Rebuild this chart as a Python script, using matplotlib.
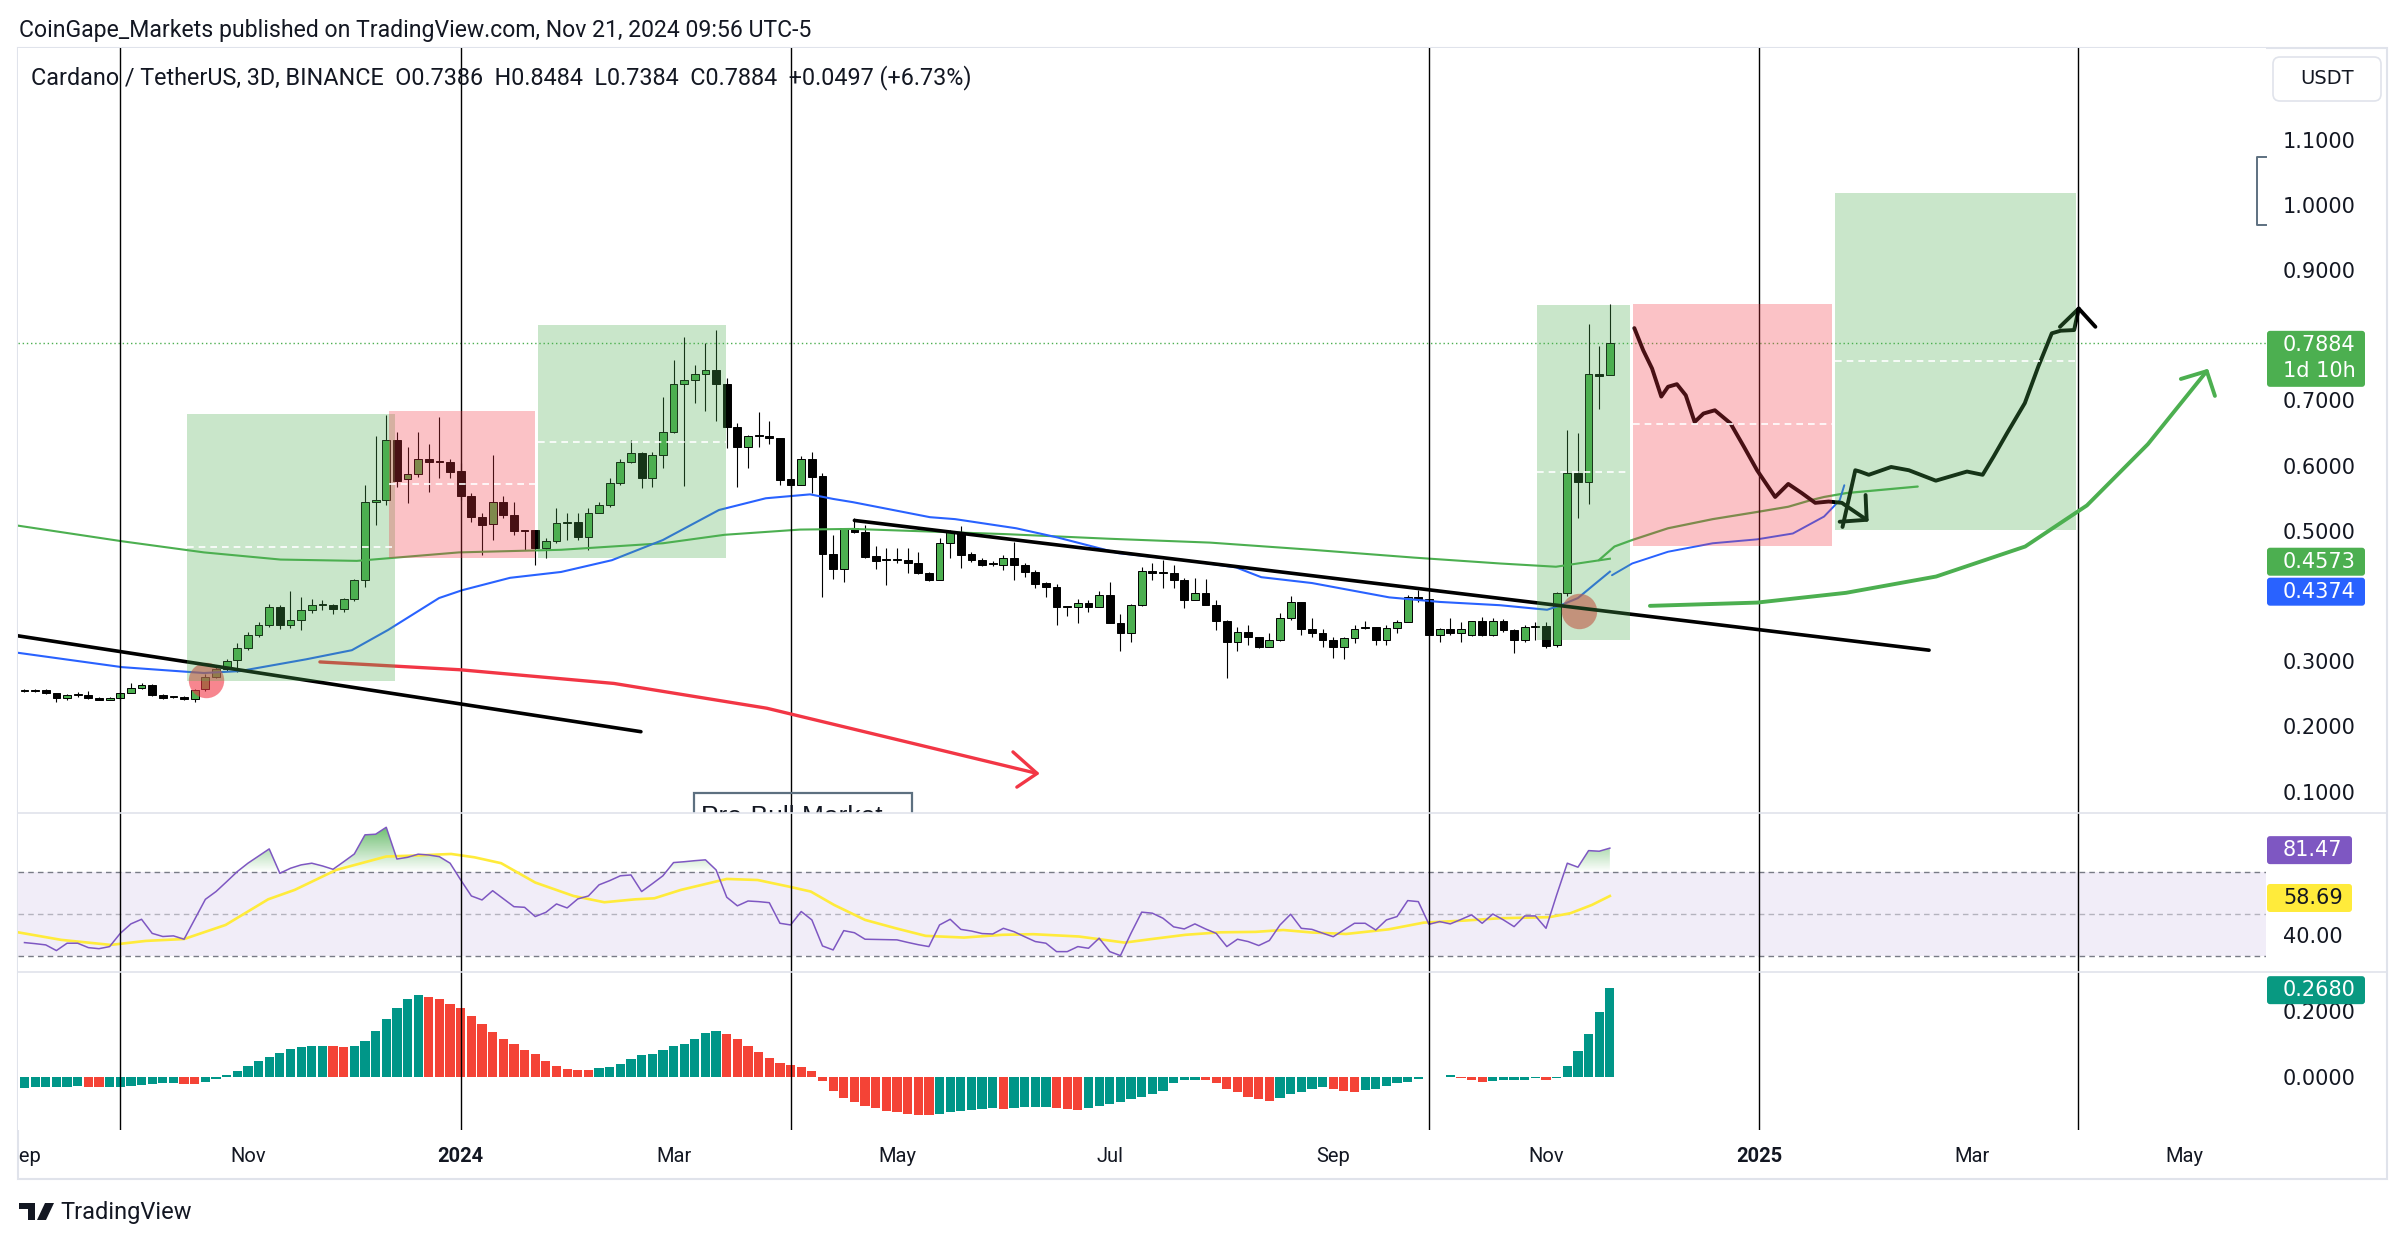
import matplotlib
matplotlib.use("Agg")
import matplotlib.pyplot as plt
import matplotlib.dates as mdates
from matplotlib.patches import Rectangle, FancyBboxPatch, PathPatch, Polygon
from matplotlib.path import Path
from matplotlib.colors import LinearSegmentedColormap
from matplotlib.transforms import IdentityTransform, Bbox
from matplotlib.lines import Line2D
import numpy as np
import pandas as pd

W, H = 2406, 1243
PX = IdentityTransform()

# pane layout in pixels, y measured from the top
LEFT, RIGHT, FRAME_R = 18, 2266, 2387
TOP, SEP1, SEP2, BOT, FRAME_B = 48, 813, 972, 1130, 1179

GREEN = '#4caf50'; RED = '#f23645'; BLUE = '#2962ff'; PURPLE = '#7e57c2'
TEAL = '#089981'; HRED = '#f44336'; TXT = '#131722'; GRID = '#e0e3eb'

# ---------------- data ----------------
bar_dates = pd.date_range(end='2024-11-20', periods=150, freq='3D')

opens = [0.255, 0.256, 0.256, 0.251, 0.243, 0.248, 0.249, 0.244, 0.241, 0.243,
         0.252, 0.259, 0.264, 0.249, 0.245, 0.245, 0.242, 0.257, 0.276, 0.288,
         0.302, 0.321, 0.340, 0.356, 0.383, 0.356, 0.364, 0.378, 0.386, 0.386,
         0.380, 0.395, 0.424, 0.544, 0.548, 0.640, 0.579, 0.587, 0.611, 0.607,
         0.606, 0.592, 0.554, 0.521, 0.510, 0.545, 0.525, 0.501, 0.501, 0.474,
         0.484, 0.512, 0.513, 0.491, 0.528, 0.539, 0.574, 0.606, 0.619, 0.581,
         0.617, 0.652, 0.726, 0.732, 0.741, 0.746, 0.725, 0.659, 0.629, 0.645,
         0.646, 0.642, 0.579, 0.571, 0.611, 0.584, 0.465, 0.442, 0.505, 0.498,
         0.461, 0.456, 0.456, 0.456, 0.450, 0.436, 0.425, 0.481, 0.499, 0.464,
         0.456, 0.449, 0.448, 0.459, 0.447, 0.437, 0.420, 0.414, 0.383, 0.383,
         0.390, 0.384, 0.401, 0.359, 0.344, 0.386, 0.439, 0.436, 0.436, 0.425,
         0.394, 0.405, 0.386, 0.362, 0.329, 0.345, 0.337, 0.322, 0.332, 0.367,
         0.391, 0.349, 0.344, 0.333, 0.322, 0.336, 0.351, 0.352, 0.332, 0.351,
         0.361, 0.399, 0.395, 0.341, 0.349, 0.343, 0.341, 0.362, 0.341, 0.362,
         0.348, 0.332, 0.353, 0.354, 0.325, 0.404, 0.588, 0.575, 0.740, 0.7386]
closes = [0.256, 0.255, 0.251, 0.243, 0.248, 0.249, 0.243, 0.241, 0.244, 0.252,
          0.259, 0.264, 0.248, 0.244, 0.246, 0.242, 0.256, 0.276, 0.288, 0.301,
          0.321, 0.340, 0.356, 0.383, 0.355, 0.364, 0.378, 0.386, 0.386, 0.380,
          0.395, 0.424, 0.544, 0.548, 0.640, 0.577, 0.587, 0.611, 0.606, 0.606,
          0.591, 0.554, 0.521, 0.509, 0.545, 0.524, 0.500, 0.500, 0.474, 0.484,
          0.512, 0.513, 0.491, 0.528, 0.539, 0.574, 0.606, 0.619, 0.581, 0.617,
          0.652, 0.726, 0.732, 0.741, 0.746, 0.725, 0.659, 0.629, 0.646, 0.646,
          0.642, 0.578, 0.571, 0.611, 0.583, 0.464, 0.442, 0.505, 0.498, 0.460,
          0.454, 0.456, 0.456, 0.450, 0.436, 0.425, 0.481, 0.499, 0.463, 0.456,
          0.448, 0.449, 0.459, 0.447, 0.437, 0.419, 0.414, 0.383, 0.383, 0.390,
          0.384, 0.401, 0.359, 0.344, 0.386, 0.439, 0.436, 0.436, 0.425, 0.394,
          0.405, 0.386, 0.362, 0.329, 0.345, 0.337, 0.322, 0.332, 0.367, 0.391,
          0.349, 0.344, 0.333, 0.322, 0.336, 0.350, 0.352, 0.332, 0.351, 0.361,
          0.399, 0.395, 0.341, 0.349, 0.343, 0.349, 0.362, 0.341, 0.362, 0.348,
          0.332, 0.353, 0.354, 0.323, 0.404, 0.588, 0.575, 0.740, 0.738, 0.7884]
highs = [0.258, 0.258, 0.257, 0.252, 0.250, 0.253, 0.254, 0.245, 0.245, 0.253,
         0.267, 0.266, 0.265, 0.250, 0.247, 0.246, 0.258, 0.281, 0.292, 0.303,
         0.328, 0.345, 0.360, 0.388, 0.386, 0.408, 0.399, 0.395, 0.394, 0.388,
         0.397, 0.426, 0.570, 0.646, 0.678, 0.652, 0.629, 0.651, 0.633, 0.675,
         0.611, 0.604, 0.558, 0.527, 0.616, 0.553, 0.545, 0.502, 0.502, 0.489,
         0.535, 0.527, 0.527, 0.535, 0.544, 0.581, 0.611, 0.639, 0.621, 0.621,
         0.706, 0.762, 0.798, 0.754, 0.788, 0.808, 0.734, 0.665, 0.647, 0.683,
         0.668, 0.643, 0.580, 0.615, 0.621, 0.589, 0.494, 0.505, 0.519, 0.509,
         0.477, 0.473, 0.473, 0.473, 0.467, 0.437, 0.489, 0.501, 0.507, 0.468,
         0.459, 0.454, 0.463, 0.483, 0.450, 0.440, 0.422, 0.418, 0.384, 0.395,
         0.394, 0.408, 0.421, 0.373, 0.388, 0.445, 0.450, 0.455, 0.448, 0.427,
         0.427, 0.426, 0.394, 0.364, 0.353, 0.356, 0.337, 0.343, 0.374, 0.400,
         0.391, 0.366, 0.350, 0.338, 0.338, 0.356, 0.362, 0.353, 0.356, 0.363,
         0.402, 0.409, 0.396, 0.351, 0.366, 0.361, 0.362, 0.368, 0.366, 0.365,
         0.350, 0.356, 0.361, 0.361, 0.406, 0.655, 0.650, 0.817, 0.783, 0.8484]
lows = [0.253, 0.253, 0.250, 0.238, 0.241, 0.245, 0.242, 0.240, 0.240, 0.241,
        0.251, 0.257, 0.247, 0.242, 0.244, 0.240, 0.238, 0.255, 0.274, 0.285,
        0.283, 0.318, 0.337, 0.352, 0.350, 0.351, 0.348, 0.374, 0.379, 0.372,
        0.376, 0.392, 0.414, 0.509, 0.540, 0.568, 0.542, 0.583, 0.559, 0.581,
        0.581, 0.547, 0.514, 0.463, 0.486, 0.519, 0.494, 0.471, 0.447, 0.458,
        0.481, 0.486, 0.486, 0.471, 0.527, 0.537, 0.570, 0.604, 0.565, 0.568,
        0.596, 0.650, 0.569, 0.696, 0.684, 0.668, 0.627, 0.568, 0.596, 0.629,
        0.633, 0.570, 0.565, 0.570, 0.558, 0.399, 0.426, 0.422, 0.497, 0.458,
        0.442, 0.417, 0.450, 0.436, 0.434, 0.423, 0.424, 0.459, 0.443, 0.453,
        0.446, 0.446, 0.440, 0.424, 0.430, 0.412, 0.399, 0.356, 0.369, 0.359,
        0.376, 0.384, 0.359, 0.316, 0.329, 0.385, 0.424, 0.413, 0.413, 0.381,
        0.394, 0.386, 0.348, 0.275, 0.315, 0.325, 0.320, 0.322, 0.331, 0.364,
        0.341, 0.338, 0.322, 0.305, 0.303, 0.328, 0.350, 0.325, 0.325, 0.343,
        0.361, 0.391, 0.341, 0.330, 0.341, 0.330, 0.339, 0.339, 0.339, 0.345,
        0.313, 0.330, 0.333, 0.320, 0.322, 0.400, 0.519, 0.541, 0.687, 0.7384]

rsi = [36.5, 36.0, 35.4, 32.7, 36.2, 36.2, 34.1, 33.6, 34.6, 40.9,
       45.4, 47.6, 40.9, 39.4, 39.7, 38.1, 47.6, 57.1, 60.8, 65.5,
       70.3, 74.3, 77.7, 81.1, 69.5, 71.9, 73.5, 74.3, 73.0, 71.4,
       75.0, 78.7, 87.8, 88.1, 91.4, 76.3, 77.1, 78.6, 78.2, 77.4,
       74.3, 66.3, 58.7, 56.8, 61.2, 57.4, 53.6, 53.3, 48.9, 50.9,
       54.9, 53.0, 57.3, 58.7, 64.0, 66.0, 68.3, 68.7, 60.8, 64.5,
       68.3, 74.6, 75.0, 75.5, 75.9, 71.1, 58.1, 54.0, 56.3, 56.0,
       55.5, 45.7, 44.9, 51.3, 47.3, 34.9, 33.0, 42.2, 41.2, 38.1,
       38.0, 37.9, 37.8, 36.6, 35.5, 34.6, 44.9, 47.6, 42.8, 42.0,
       40.8, 40.6, 43.3, 41.7, 39.3, 37.0, 36.2, 32.2, 32.2, 34.6,
       33.8, 38.6, 32.2, 30.3, 41.0, 51.0, 50.5, 48.1, 44.0, 43.0,
       45.4, 43.0, 40.9, 34.6, 38.1, 37.0, 35.1, 37.5, 44.9, 50.0,
       43.3, 42.8, 41.0, 39.3, 42.5, 45.7, 45.7, 42.5, 47.3, 48.9,
       56.5, 56.0, 45.2, 46.5, 45.4, 47.5, 49.7, 45.7, 50.1, 47.3,
       44.1, 49.2, 49.2, 43.3, 59.2, 74.3, 72.4, 80.3, 80.0, 81.47]
# RSI moving average, sampled along the drawn line (bar number, value)
rsi_ma_bar = [-0.5, 3.45, 8.1, 11.4, 15.0, 18.9, 22.9, 25.4, 29.3, 34.0, 36.5, 40.1,
              42.3, 44.8, 48.0, 51.6, 54.5, 57.4, 59.2, 61.7, 66.0, 68.9, 71.8, 73.9,
              76.1, 79.0, 81.9, 84.7, 88.3, 91.9, 94.8, 99.1, 103.4, 105.8, 109.1, 112.4,
              115.7, 118.3, 121.0, 124.2, 128.2, 131.5, 135.4, 138.7, 143.3, 145.3, 147.3, 149.0]
rsi_ma_val = [41.3, 37.8, 35.4, 37.3, 38.2, 44.9, 57.1, 61.6, 71.1, 77.5, 77.9, 78.7,
              77.1, 74.3, 65.1, 58.7, 55.7, 57.1, 57.6, 61.6, 66.8, 66.3, 63.2, 60.8,
              54.4, 47.3, 43.3, 39.7, 38.9, 40.2, 40.5, 39.4, 36.5, 38.1, 40.2, 41.4,
              41.6, 42.5, 41.3, 40.6, 42.8, 46.0, 47.0, 48.1, 48.6, 50.5, 54.4, 58.69]

hist = [-0.036, -0.033, -0.031, -0.031, -0.031, -0.030, -0.031, -0.032, -0.031, -0.031,
        -0.028, -0.025, -0.022, -0.021, -0.020, -0.022, -0.023, -0.015, -0.008, 0.005,
        0.017, 0.032, 0.047, 0.060, 0.072, 0.084, 0.090, 0.093, 0.094, 0.093,
        0.090, 0.093, 0.108, 0.138, 0.175, 0.208, 0.235, 0.247, 0.241, 0.235,
        0.220, 0.208, 0.184, 0.160, 0.135, 0.114, 0.099, 0.081, 0.069, 0.047,
        0.032, 0.023, 0.020, 0.019, 0.026, 0.029, 0.038, 0.054, 0.066, 0.069,
        0.081, 0.093, 0.099, 0.114, 0.132, 0.138, 0.129, 0.114, 0.093, 0.075,
        0.057, 0.041, 0.035, 0.029, 0.017, -0.013, -0.043, -0.064, -0.078, -0.088,
        -0.096, -0.103, -0.108, -0.112, -0.116, -0.118, -0.113, -0.108, -0.104, -0.100,
        -0.097, -0.095, -0.097, -0.095, -0.093, -0.092, -0.091, -0.094, -0.098, -0.100,
        -0.096, -0.090, -0.083, -0.076, -0.068, -0.062, -0.054, -0.043, -0.021, -0.009,
        -0.009, -0.011, -0.021, -0.039, -0.048, -0.061, -0.069, -0.075, -0.066, -0.054,
        -0.048, -0.038, -0.033, -0.037, -0.045, -0.046, -0.041, -0.039, -0.030, -0.021,
        -0.015, -0.006, -0.002, -0.001, 0.004, -0.003, -0.011, -0.015, -0.013, -0.010,
        -0.009, -0.009, -0.005, -0.009, -0.005, 0.032, 0.076, 0.130, 0.197, 0.268]

# moving averages on the price pane (days after first bar, price)
ma200_day = [-1.8, 27.6, 50.6, 72.2, 93.7, 122.5, 151.3, 180, 197.4, 218.7, 233.6, 276.7,
             305.5, 334.3, 363, 391.8, 416, 431.8, 447]
ma200_val = [0.508, 0.484, 0.467, 0.456, 0.454, 0.467, 0.471, 0.481, 0.494, 0.502, 0.503, 0.495,
             0.488, 0.482, 0.471, 0.459, 0.450, 0.445, 0.4573]
ma50_day = [-1.8, 27.5, 50.6, 60.8, 79.4, 92.3, 102.5, 116.9, 123.4, 136.9, 151.3, 165.6,
            180, 195.8, 209, 221.5, 228, 233.6, 255.3, 262.4, 279.6, 291.2, 308.3, 327.2,
            341.6, 348.7, 363, 384.8, 399.1, 416, 429.3, 433.2, 438, 443.1, 447]
ma50_val = [0.313, 0.291, 0.282, 0.285, 0.303, 0.317, 0.348, 0.397, 0.409, 0.428, 0.437, 0.455,
            0.486, 0.532, 0.550, 0.556, 0.549, 0.544, 0.521, 0.518, 0.504, 0.490, 0.466, 0.455,
            0.444, 0.429, 0.420, 0.398, 0.391, 0.386, 0.379, 0.386, 0.397, 0.420, 0.4374]

# drawings (days after first bar, price)
vlines_dates = ['2023-09-27', '2024-01-01', '2024-04-03', '2024-09-30', '2025-01-01', '2025-04-01']
zones = [  # day from, day to, low, high, middle, colour
    (45.8, 104.5, 0.269, 0.679, 0.475, GREEN),
    (102.8, 143.9, 0.459, 0.684, 0.572, RED),
    (144.8, 197.8, 0.459, 0.816, 0.637, GREEN),
    (426.4, 452.7, 0.332, 0.846, 0.590, GREEN),
    (453.5, 509.6, 0.477, 0.848, 0.664, RED),
    (510.5, 578.4, 0.502, 1.018, 0.761, GREEN),
]
trend_day = [(-1.8, 173.8), (234.0, 537.0)]
trend_val = [(0.339, 0.192), (0.516, 0.317)]
red_arrow_day = [83.3, 122.8, 166.2, 209.3, 252.8, 285.5]
red_arrow_val = [0.299, 0.287, 0.266, 0.228, 0.171, 0.128]
red_head_day = [278.7, 285.5, 279.8]
red_head_val = [0.161, 0.128, 0.107]
grn_arrow_day = [458.3, 488.5, 513.6, 539, 564.1, 581.5, 598.7, 615.3]
grn_arrow_val = [0.385, 0.390, 0.405, 0.430, 0.476, 0.539, 0.633, 0.745]
grn_head_day = [608.0, 615.3, 617.6]
grn_head_val = [0.733, 0.745, 0.707]
fc1_day = [453.9, 456.4, 458.9, 461.5, 463.4, 465.9, 468.4, 470.9, 473.4, 476.6,
           481.0, 484.8, 488.5, 493.6, 497.3, 501.1, 504.9, 508.7, 512.4, 519.4]
fc1_val = [0.811, 0.777, 0.749, 0.706, 0.721, 0.725, 0.708, 0.667, 0.680, 0.685,
           0.665, 0.629, 0.593, 0.552, 0.572, 0.558, 0.543, 0.545, 0.543, 0.517]
fc1_head_day = [519.1, 519.4, 511.8]
fc1_head_val = [0.555, 0.517, 0.514]
fc2_day = [512.6, 516.2, 517.5, 520.0, 526.3, 531.3, 538.9, 547.7, 552.1, 555.2,
           559.0, 564.0, 567.8, 571.6, 574.1, 577.9, 579.2]
fc2_val = [0.506, 0.593, 0.591, 0.586, 0.598, 0.593, 0.577, 0.591, 0.586, 0.614,
           0.650, 0.696, 0.752, 0.803, 0.807, 0.808, 0.841]
fc2_head_day = [573.9, 579.2, 583.9]
fc2_head_val = [0.813, 0.841, 0.813]
proj200_day = [443.9, 448.3, 453.3, 463.4, 476, 488.5, 497.3, 503.6, 507.4, 513.7, 533.8]
proj200_val = [0.455, 0.476, 0.486, 0.504, 0.518, 0.529, 0.537, 0.547, 0.552, 0.558, 0.568]
proj50_day = [447.6, 453.3, 463.4, 476, 488.5, 498.6, 507.4, 511.8, 513.1]
proj50_val = [0.432, 0.450, 0.468, 0.481, 0.487, 0.496, 0.522, 0.547, 0.570]
circle_day = [51.1, 438.2]
circle_val = [0.271, 0.377]
prebull_day = (188.8, 250.2)
prebull_top = 0.098

# time-scale labels as placed on the chart
time_ticks = ['2023-08-31', '2023-11-02', '2024-01-01', '2024-03-01', '2024-05-03', '2024-07-02',
              '2024-09-03', '2024-11-02', '2025-01-01', '2025-03-02', '2025-05-01']
time_labels = ['Sep', 'Nov', '2024', 'Mar', 'May', 'Jul', 'Sep', 'Nov', '2025', 'Mar', 'May']

# price-scale labels left uncovered by the value tags
price_ticks = [0.1, 0.2, 0.3, 0.5, 0.6, 0.7, 0.9, 1.0, 1.1]
rsi_ticks = [40]
hist_ticks = [0.0, 0.2]

header = 'Cardano / TetherUS, 3D, BINANCE  O0.7386  H0.8484  L0.7384  C0.7884  +0.0497 (+6.73%)'
watermark = 'CoinGape_Markets published on TradingView.com, Nov 21, 2024 09:56 UTC-5'

# ---------------- figure ----------------
plt.rcParams['font.family'] = ['Roboto', 'DejaVu Sans']
fig = plt.figure(figsize=(W / 100, H / 100), dpi=100)
fig.patch.set_facecolor('white')

base = mdates.date2num(bar_dates[0])
def dn(days):
    return base + np.asarray(days, dtype=float)

xb = mdates.date2num(bar_dates)
XLIM = (dn(-1.83), dn(632.0))

def pane(top, bottom, ylim, ticks, fmt):
    ax = fig.add_axes([LEFT / W, 1 - bottom / H, (RIGHT - LEFT) / W, (bottom - top) / H])
    for s in ax.spines.values():
        s.set_visible(False)
    ax.set_xlim(*XLIM)
    ax.set_ylim(*ylim)
    ax.set_xticks([])
    ax.yaxis.tick_right()
    ax.set_yticks(ticks)
    ax.set_yticklabels([fmt % t for t in ticks], family='DejaVu Sans')
    ax.tick_params(axis='y', length=0, pad=12.2, labelsize=15, labelcolor=TXT)
    for d in vlines_dates:
        ax.axvline(mdates.date2num(pd.Timestamp(d)), color='black', lw=1.0, zorder=4)
    return ax

ax = pane(TOP, SEP1, (0.0673, 1.2406), price_ticks, '%.4f')
ax_rsi = pane(SEP1, SEP2, (22.5, 98.2), rsi_ticks, '%.2f')
ax_m = pane(SEP2, BOT, (-0.162, 0.317), hist_ticks, '%.4f')

# ---- price pane ----
o, h, l, c = (np.array(v) for v in (opens, highs, lows, closes))
up = c >= o
ax.axhline(closes[-1], color=GREEN, lw=1.0, ls=(0, (1, 2)), zorder=1)
ax.vlines(xb, l, h, color='black', lw=0.8, zorder=2)
ax.bar(xb, np.maximum(np.abs(c - o), 0.0015), bottom=np.minimum(o, c), width=2.2,
       color=np.where(up, GREEN, '#000000'), edgecolor='black', linewidth=0.7, zorder=2.1)

ax.plot(dn(ma200_day), ma200_val, color=GREEN, lw=1.5, zorder=3)
ax.plot(dn(ma50_day), ma50_val, color=BLUE, lw=1.5, zorder=3)
ax.plot(dn(proj200_day), proj200_val, color=GREEN, lw=1.6, zorder=3, solid_capstyle='round')
ax.plot(dn(proj50_day), proj50_val, color=BLUE, lw=1.4, zorder=3, solid_capstyle='round')
ax.scatter(dn(circle_day), circle_val, s=650, color=RED, alpha=0.6, lw=0, zorder=3.5)

for (d0, d1), (v0, v1) in zip(trend_day, trend_val):
    ax.plot(dn([d0, d1]), [v0, v1], color='black', lw=2.6, zorder=4, solid_capstyle='round')
kw = dict(lw=2.4, zorder=4, solid_capstyle='round', solid_joinstyle='round')
ax.plot(dn(red_arrow_day), red_arrow_val, color=RED, **kw)
ax.plot(dn(red_head_day), red_head_val, color=RED, **kw)
ax.plot(dn(grn_arrow_day), grn_arrow_val, color=GREEN, lw=2.8, zorder=4, solid_capstyle='round')
ax.plot(dn(grn_head_day), grn_head_val, color=GREEN, lw=2.8, zorder=4, solid_capstyle='round')
kw = dict(color='black', lw=2.8, zorder=4, solid_capstyle='round', solid_joinstyle='round')
for dd, vv in ((fc1_day, fc1_val), (fc1_head_day, fc1_head_val),
               (fc2_day, fc2_val), (fc2_head_day, fc2_head_val)):
    ax.plot(dn(dd), vv, **kw)

for d0, d1, lo, hi, mid, col in zones:
    ax.add_patch(Rectangle((dn(d0), lo), d1 - d0, hi - lo, facecolor=col, alpha=0.3,
                           lw=0, zorder=5))
    ax.plot(dn([d0, d1]), [mid, mid], color='white', lw=1.2, ls=(0, (4, 3)), zorder=6)

ax.add_patch(Rectangle((dn(prebull_day[0]), -0.05), prebull_day[1] - prebull_day[0],
                       prebull_top + 0.05, fill=False, ec='#5d7080', lw=1.6, zorder=6))
ax.text(dn(prebull_day[0] + 2.0), prebull_top - 0.018, 'Pre-Bull Market', fontsize=19,
        color=TXT, va='top', ha='left', family='Liberation Sans', clip_on=True, zorder=6)

# ---- RSI pane ----
rsi_a = np.array(rsi)
ax_rsi.axhspan(30, 70, color=PURPLE, alpha=0.1, lw=0, zorder=0)
ax_rsi.axhline(70, color='#787b86', lw=1.0, ls=(0, (4, 3)), zorder=1)
ax_rsi.axhline(30, color='#787b86', lw=1.0, ls=(0, (4, 3)), zorder=1)
ax_rsi.axhline(50, color='#787b86', lw=1.0, ls=(0, (4, 3)), alpha=0.5, zorder=1)
fb = ax_rsi.fill_between(xb, rsi_a, 70, where=rsi_a > 70, interpolate=True,
                         facecolor='none', edgecolor='none')
paths = fb.get_paths()
if paths:
    clip = PathPatch(Path.make_compound_path(*paths), transform=ax_rsi.transData,
                     facecolor='none', edgecolor='none')
    ax_rsi.add_patch(clip)
    cmap = LinearSegmentedColormap.from_list(
        'rsig', [(0.30, 0.69, 0.31, 0.0), (0.30, 0.69, 0.31, 0.85)])
    img = ax_rsi.imshow(np.linspace(0, 1, 200).reshape(-1, 1), origin='lower', aspect='auto',
                        extent=(xb[0], xb[-1], 70, 92), cmap=cmap, zorder=1.5)
    img.set_clip_path(clip)
ax_rsi.plot(xb, rsi_a, color=PURPLE, lw=1.1, zorder=3)
ax_rsi.plot(base + 3 * np.array(rsi_ma_bar), rsi_ma_val, color='#ffeb3b', lw=1.9, zorder=2.5)
ax_rsi.set_xlim(*XLIM)
ax_rsi.set_ylim(22.5, 98.2)

# ---- MACD histogram pane ----
hv = np.array(hist)
rising = np.r_[True, hv[1:] >= hv[:-1]]
ax_m.bar(xb, hv, width=2.6, color=np.where(rising, '#009688', HRED), lw=0, zorder=2)

# ---- time axis labels ----
clipbox = Bbox.from_extents(LEFT + 1, 0, FRAME_R, H)
for d, lab in zip(time_ticks, time_labels):
    xp = ax_m.transData.transform((mdates.date2num(pd.Timestamp(d)), 0))[0]
    yr = lab.isdigit()
    t = fig.text(xp, H - 1157, lab, transform=PX, ha='center', va='center', fontsize=14.5,
                 color=TXT, fontweight='bold' if yr else 'normal')
    t.set_clip_box(clipbox)
    t.set_clip_on(True)

# ---- price-scale value tags ----
def tag(axis, value, lines, face, dy, tcolor='white', width=98):
    vy = H - axis.transData.transform((0, value))[1]
    hgt = 28 * len(lines)
    top = vy + dy - 14
    fig.add_artist(FancyBboxPatch((RIGHT + 1, H - top - hgt), width, hgt,
                                  boxstyle='round,pad=0,rounding_size=3', transform=PX,
                                  fc=face, ec='none', zorder=10))
    for k, s in enumerate(lines):
        fig.text(2283, H - (top + 14 + 26 * k), s, transform=PX, ha='left', va='center',
                 fontsize=15, color=tcolor, family='DejaVu Sans', zorder=11)

tag(ax, closes[-1], ['%.4f' % closes[-1], '1d 10h'], GREEN, 2)
tag(ax, ma200_val[-1], ['%.4f' % ma200_val[-1]], GREEN, 3)
tag(ax, ma50_val[-1], ['%.4f' % ma50_val[-1]], BLUE, 20)
tag(ax_rsi, rsi[-1], ['%.2f' % rsi[-1]], PURPLE, 2, width=85)
tag(ax_rsi, rsi_ma_val[-1], ['%.2f' % rsi_ma_val[-1]], '#ffeb3b', 2, tcolor=TXT, width=85)
tag(ax_m, hist[-1], ['%.4f' % hist[-1]], TEAL, 2)

# ---- chrome: frame, separators, header, logo ----
fig.add_artist(Rectangle((LEFT, H - FRAME_B), FRAME_R - LEFT, FRAME_B - TOP, transform=PX,
                         fill=False, ec=GRID, lw=1.5, zorder=0))
for yy in (SEP1, SEP2):
    fig.add_artist(Line2D([LEFT, FRAME_R], [H - yy, H - yy], transform=PX, color=GRID, lw=1.2))
fig.add_artist(FancyBboxPatch((2273, H - 101), 108, 44, boxstyle='round,pad=0,rounding_size=7',
                              transform=PX, fc='white', ec=GRID, lw=1.2))
fig.text(2327, H - 79, 'USDT', transform=PX, ha='center', va='center', fontsize=14,
         color=TXT, family='DejaVu Sans')
fig.add_artist(Line2D([2266, 2257, 2257, 2266], [H - 157, H - 157, H - 225, H - 225],
                      transform=PX, color='#5d7080', lw=1.4))

fig.text(19, H - 30, watermark, transform=PX, ha='left', va='center', fontsize=16.6, color=TXT)
fig.text(31, H - 78, header, transform=PX, ha='left', va='center', fontsize=16.8, color=TXT)

fig.add_artist(Polygon([[19, H - 1203], [35, H - 1203], [35, H - 1220], [28, H - 1220],
                        [28, H - 1209], [19, H - 1209]], closed=True, transform=PX,
                       fc=TXT, ec='none'))
fig.add_artist(Polygon([[45, H - 1203], [54, H - 1203], [46, H - 1220], [37, H - 1220]],
                       closed=True, transform=PX, fc=TXT, ec='none'))
fig.text(60, H - 1212, 'TradingView', transform=PX, ha='left', va='center', fontsize=17,
         color=TXT)

fig.savefig('out.png', dpi=100, facecolor='white')
